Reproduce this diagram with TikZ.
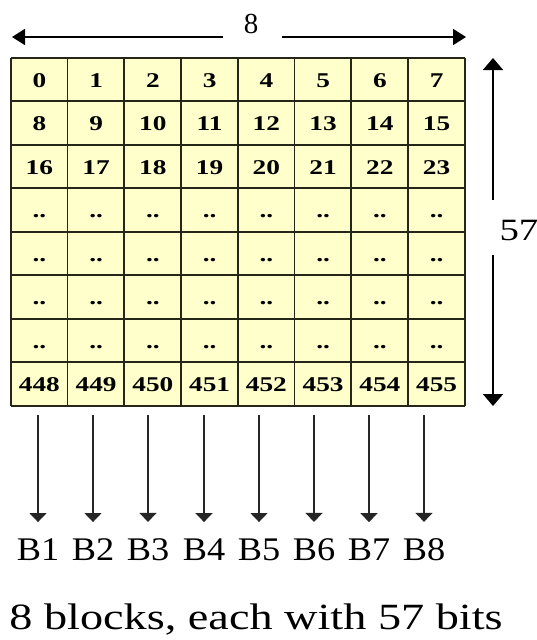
\documentclass[tikz,border=0pt]{standalone}
\usepackage{fontspec}
\setmainfont{Liberation Serif}
\newfontfamily\cellfont[FakeStretch=1.3]{Liberation Serif}
\newfontfamily\capfont[FakeStretch=1.25]{Liberation Serif}
\newfontfamily\blkfont[FakeStretch=1.1]{Liberation Serif}
\usetikzlibrary{arrows.meta}
\definecolor{cellyellow}{HTML}{FFFFCC}
\definecolor{gridline}{HTML}{262618}
\tikzset{
  cell/.style={fill=cellyellow,
    minimum width=56.75pt, minimum height=43.5pt, inner sep=0pt,
    font=\cellfont\bfseries\fontsize{21}{21}\selectfont,
    text height=14.5pt, text depth=0pt},
  rule/.style={draw=gridline, line width=1.8pt},
  sizearrow/.style={line width=1.7pt, -{Triangle[length=13pt,width=16pt]}},
  tallarrow/.style={line width=1.7pt, -{Triangle[length=12pt,width=20pt]}},
  blockarrow/.style={line width=1.4pt, draw=black!85, -{Triangle[length=9pt,width=17pt]}},
  blklabel/.style={font=\blkfont\fontsize{33}{33}\selectfont, inner sep=0pt,
    outer xsep=0pt, outer ysep=17pt},
}
\begin{document}
\begin{tikzpicture}[x=1pt, y=-1pt]
  \useasboundingbox (0,0) rectangle (537,640);
  % the 8 x 57 grid, first three rows and the last one written out
  \foreach \r in {0,...,7}
    \foreach \c in {0,...,7} {
      \pgfmathtruncatemacro{\n}{\r==7 ? 448+\c : 8*\r+\c}
      \ifnum\r>2 \ifnum\r<7 \def\n{..}\fi\fi
      \node[cell] (c-\r-\c) at ({11+56.75*(\c+0.5)}, {58+43.5*(\r+0.5)}) {\n};
    }
  \foreach \c in {0,...,7}
    \draw[rule] (c-0-\c.north west) -- (c-7-\c.south west);
  \draw[rule] (c-0-7.north east) -- (c-7-7.south east);
  \foreach \r in {0,...,7}
    \draw[rule] (c-\r-0.north west) -- (c-\r-7.north east);
  \draw[rule] (c-7-0.south west) -- (c-7-7.south east);
  % width: 8 columns
  \node[font=\fontsize{29}{29}\selectfont] (w8) at (251,24) {8};
  \coordinate (wl0) at (223,37);
  \coordinate (wl1) at (12,37);
  \coordinate (wr0) at (282,37);
  \coordinate (wr1) at (466,37);
  \draw[sizearrow] (wl0) -- (wl1);
  \draw[sizearrow] (wr0) -- (wr1);
  % height: 57 rows
  \node[font=\capfont\fontsize{31}{31}\selectfont, anchor=west] (h57) at (496,230) {57};
  \coordinate (hu0) at (493,200);
  \coordinate (hu1) at (493,58);
  \coordinate (hd0) at (493,255);
  \coordinate (hd1) at (493,406);
  \draw[tallarrow] (hu0) -- (hu1);
  \draw[tallarrow] (hd0) -- (hd1);
  % one block per column
  \foreach \i/\x in {1/38, 2/93, 3/148, 4/204, 5/259, 6/314, 7/369, 8/424} {
    \coordinate (t\i) at (\x,415);
    \node[blklabel] (b\i) at (\x,550) {B\i};
    \draw[blockarrow] (t\i) -- (b\i);
  }
  \node[font=\capfont\fontsize{37}{37}\selectfont] (cap) at (256,620) {8 blocks, each with 57 bits};
\end{tikzpicture}
\end{document}
